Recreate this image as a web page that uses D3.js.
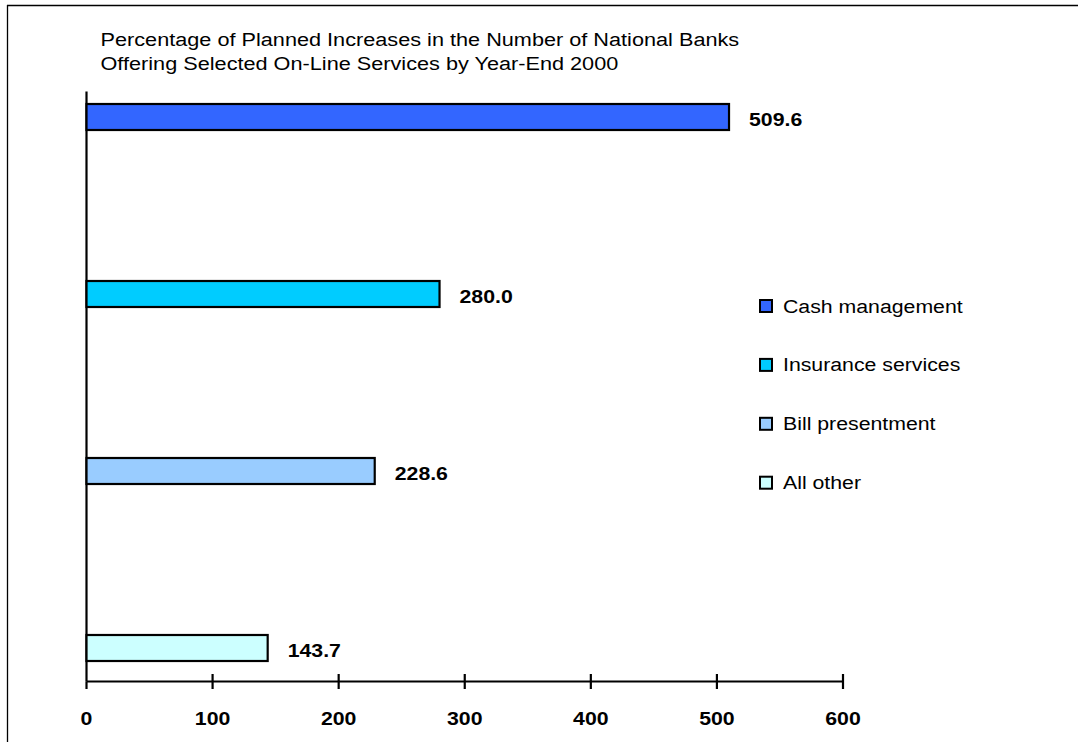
<!DOCTYPE html>
<html>
<head>
<meta charset="utf-8">
<script src="https://cdn.jsdelivr.net/npm/d3@7"></script>
<style>
  html, body { margin: 0; padding: 0; background: #fff; }
  svg { display: block; font-family: "Liberation Sans", Arial, sans-serif; }
</style>
</head>
<body>
<svg id="chart" width="1078" height="742"></svg>
<script>
// Planned increases in on-line services, national banks, by year-end 2000
const categories = ["Cash management", "Insurance services", "Bill presentment", "All other"];
const values = [509.6, 280.0, 228.6, 143.7];
const colors = ["#3366FF", "#00CCFF", "#99CCFF", "#CCFFFF"];
const xTicks = [0, 100, 200, 300, 400, 500, 600];
const titleLines = [
  "Percentage of Planned Increases in the Number of National Banks",
  "Offering Selected On-Line Services by Year-End 2000"
];

const svg = d3.select("#chart");
const FS = 19;       // base font size
const SX = 1.12;     // horizontal text stretch

function label(g, x, y, text, opts = {}) {
  return g.append("text")
    .attr("transform", `translate(${x},${y}) scale(${opts.sx || SX},1)`)
    .attr("font-size", opts.size || FS)
    .attr("font-weight", opts.bold ? "bold" : "normal")
    .attr("text-anchor", opts.anchor || "start")
    .attr("fill", "#000")
    .text(text);
}

// Frame lines (top and left)
svg.append("line").attr("x1", 7).attr("x2", 1078).attr("y1", 5.5).attr("y2", 5.5)
  .attr("stroke", "#000").attr("stroke-width", 1.3);
svg.append("line").attr("x1", 7.5).attr("x2", 7.5).attr("y1", 5).attr("y2", 742)
  .attr("stroke", "#000").attr("stroke-width", 1.3);

// Title
titleLines.forEach((t, i) => label(svg, 100.5, 45.5 + i * 24.5, t, { size: 19.2, sx: 1.13 }));

// Scales
const x = d3.scaleLinear().domain([0, 600]).range([86.5, 843]);
const y = d3.scalePoint().domain(categories).range([117, 648]);
const barH = 26;
const axisY = 681.5;

// Value axis
const axis = svg.append("g");
axis.append("line")
  .attr("x1", x(0)).attr("x2", x(600)).attr("y1", axisY).attr("y2", axisY)
  .attr("stroke", "#000").attr("stroke-width", 2.2);
axis.selectAll("line.tick").data(xTicks).join("line")
  .attr("class", "tick")
  .attr("x1", d => x(d)).attr("x2", d => x(d))
  .attr("y1", d => d === 0 ? axisY : axisY - 7.5).attr("y2", axisY + 7.5)
  .attr("stroke", "#000").attr("stroke-width", 2.2);
xTicks.forEach(t => label(axis, x(t), 725, String(t), { bold: true, anchor: "middle" }));

// Category axis line
svg.append("line")
  .attr("x1", x(0)).attr("x2", x(0)).attr("y1", 91.5).attr("y2", axisY)
  .attr("stroke", "#000").attr("stroke-width", 2.2);

// Bars
svg.append("g").selectAll("rect").data(categories).join("rect")
  .attr("x", x(0))
  .attr("y", d => y(d) - barH / 2)
  .attr("width", (d, i) => x(values[i]) - x(0))
  .attr("height", barH)
  .attr("fill", (d, i) => colors[i])
  .attr("stroke", "#000")
  .attr("stroke-width", 2.2);

// Value labels
const vl = svg.append("g");
categories.forEach((c, i) => {
  label(vl, x(values[i]) + 20, y(c) + 8.7, values[i].toFixed(1), { bold: true });
});

// Legend
const legend = svg.append("g");
const legendY = d3.scalePoint().domain(categories).range([306, 482.7]);
categories.forEach((c, i) => {
  legend.append("rect")
    .attr("x", 760).attr("y", legendY(c) - 6)
    .attr("width", 12).attr("height", 12)
    .attr("fill", colors[i]).attr("stroke", "#000").attr("stroke-width", 2);
  label(legend, 783, legendY(c) + 6.5, c);
});
</script>
</body>
</html>
